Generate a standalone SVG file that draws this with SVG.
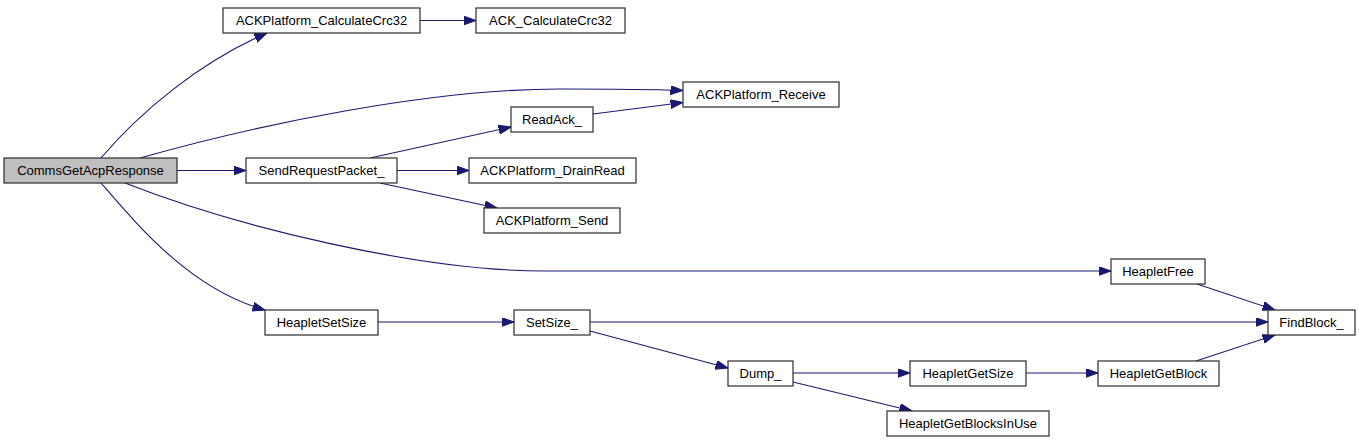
<svg xmlns="http://www.w3.org/2000/svg" width="1359" height="443" viewBox="0 0 1359 443">
<style>
.node rect{fill:#ffffff;stroke:#2b2b2b;stroke-width:1.2}
.node.root rect{fill:#bfbfbf}
.node text{font-family:"Liberation Sans",Arial,Helvetica,sans-serif;font-size:13px;fill:#000000;text-anchor:middle}
.edges path{fill:none;stroke:#191970;stroke-width:1.1;marker-end:url(#arr)}
</style>
<defs>
<marker id="arr" markerUnits="userSpaceOnUse" markerWidth="14" markerHeight="11" refX="12.5" refY="4.5" orient="auto">
<path d="M0,0 L12.5,4.5 L0,9 Z" fill="#191970" stroke="#191970" stroke-width="1"/>
</marker>
</defs>
<rect width="1359" height="443" fill="#ffffff"/>
<g class="edges">
<path d="M101,158 C140,112 200,62 267,33"/>
<path d="M420,20.5 L476,20.5"/>
<path d="M140,158 C260,124 430,89 560,89 C620,89 655,89.5 683,90.5"/>
<path d="M177,170.5 L246,170.5"/>
<path d="M125,183 C240,228 420,271 545,271 L1111,271"/>
<path d="M101,183 C140,228 192,290 265,310"/>
<path d="M370,158 L511,127"/>
<path d="M397,170.5 L469,170.5"/>
<path d="M380,183 L497,208"/>
<path d="M593,114 L683,102.5"/>
<path d="M378,322 L514,322"/>
<path d="M590,322 L1268,322"/>
<path d="M590,331 L728,368"/>
<path d="M1197,284 L1275,310"/>
<path d="M793,373 L910,373"/>
<path d="M793,382 L912,411"/>
<path d="M1026,373 L1098,373"/>
<path d="M1196,361 L1275,335"/>
</g>
<g id="node-CommsGetAcpResponse" class="node root"><rect x="4" y="158" width="173" height="25"/><text x="90.5" y="175">CommsGetAcpResponse</text></g>
<g id="node-ACKPlatform_CalculateCrc32" class="node"><rect x="223" y="8" width="197" height="25"/><text x="321.5" y="25">ACKPlatform_CalculateCrc32</text></g>
<g id="node-ACK_CalculateCrc32" class="node"><rect x="476" y="8" width="149" height="25"/><text x="550.5" y="25">ACK_CalculateCrc32</text></g>
<g id="node-ACKPlatform_Receive" class="node"><rect x="683" y="82" width="156" height="25"/><text x="761" y="99">ACKPlatform_Receive</text></g>
<g id="node-ReadAck_" class="node"><rect x="511" y="107" width="82" height="25"/><text x="552" y="124">ReadAck_</text></g>
<g id="node-SendRequestPacket_" class="node"><rect x="246" y="158" width="151" height="25"/><text x="321.5" y="175">SendRequestPacket_</text></g>
<g id="node-ACKPlatform_DrainRead" class="node"><rect x="469" y="158" width="167" height="25"/><text x="552.5" y="175">ACKPlatform_DrainRead</text></g>
<g id="node-ACKPlatform_Send" class="node"><rect x="484" y="208" width="136" height="25"/><text x="552" y="225">ACKPlatform_Send</text></g>
<g id="node-HeapletFree" class="node"><rect x="1111" y="259" width="94" height="25"/><text x="1158" y="276">HeapletFree</text></g>
<g id="node-HeapletSetSize" class="node"><rect x="265" y="310" width="113" height="25"/><text x="321.5" y="327">HeapletSetSize</text></g>
<g id="node-SetSize_" class="node"><rect x="514" y="310" width="76" height="25"/><text x="552" y="327">SetSize_</text></g>
<g id="node-FindBlock_" class="node"><rect x="1268" y="310" width="87" height="25"/><text x="1311.5" y="327">FindBlock_</text></g>
<g id="node-Dump_" class="node"><rect x="728" y="361" width="65" height="25"/><text x="760.5" y="378">Dump_</text></g>
<g id="node-HeapletGetSize" class="node"><rect x="910" y="361" width="116" height="25"/><text x="968" y="378">HeapletGetSize</text></g>
<g id="node-HeapletGetBlock" class="node"><rect x="1098" y="361" width="121" height="25"/><text x="1158.5" y="378">HeapletGetBlock</text></g>
<g id="node-HeapletGetBlocksInUse" class="node"><rect x="887" y="411" width="162" height="25"/><text x="968" y="428">HeapletGetBlocksInUse</text></g>
</svg>
